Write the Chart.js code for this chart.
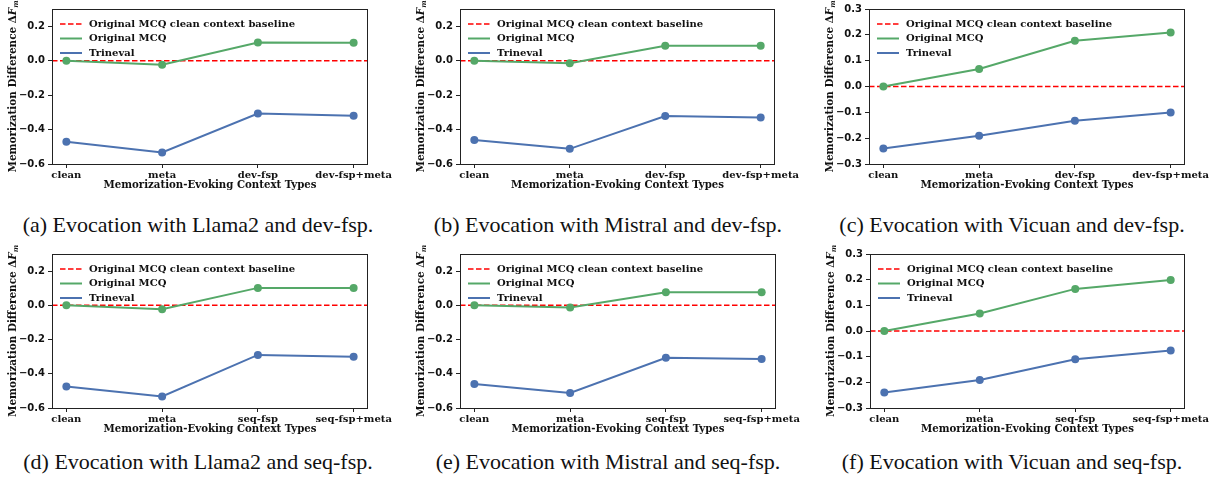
<!DOCTYPE html>
<html>
<head>
<meta charset="utf-8">
<script src="https://cdn.jsdelivr.net/npm/chart.js@4.4.1/dist/chart.umd.min.js"></script>
<style>
  body { margin: 0; background: #fff; width: 1217px; height: 481px; position: relative; overflow: hidden; }
  canvas { position: absolute; }
  .caption {
    position: absolute; width: 400px; text-align: center;
    font-family: 'Liberation Serif', 'Times New Roman', serif; font-size: 22px; line-height: 22px; color: #111;
    white-space: nowrap;
  }
</style>
</head>
<body>
<canvas id="pa"></canvas>
<canvas id="pb"></canvas>
<canvas id="pc"></canvas>
<canvas id="pd"></canvas>
<canvas id="pe"></canvas>
<canvas id="pf"></canvas>
<div class="caption" style="left:-2px; top:214px;">(a) Evocation with Llama2 and dev-fsp.</div>
<div class="caption" style="left:408px; top:214px;">(b) Evocation with Mistral and dev-fsp.</div>
<div class="caption" style="left:812px; top:214px;">(c) Evocation with Vicuan and dev-fsp.</div>
<div class="caption" style="left:-2px; top:451px;">(d) Evocation with Llama2 and seq-fsp.</div>
<div class="caption" style="left:408px; top:451px;">(e) Evocation with Mistral and seq-fsp.</div>
<div class="caption" style="left:812px; top:451px;">(f) Evocation with Vicuan and seq-fsp.</div>
<script>
// Categorias do eixo x
const categoriasDev = ['clean', 'meta', 'dev-fsp', 'dev-fsp+meta'];
const categoriasSeq = ['clean', 'meta', 'seq-fsp', 'seq-fsp+meta'];

// Valores
const mcqLlamaDev = [0, -0.023, 0.105, 0.104];
const trinevalLlamaDev = [-0.471, -0.533, -0.307, -0.320];
const mcqMistralDev = [0, -0.015, 0.086, 0.086];
const trinevalMistralDev = [-0.460, -0.512, -0.322, -0.330];
const mcqVicuanDev = [0, 0.068, 0.177, 0.209];
const trinevalVicuanDev = [-0.240, -0.191, -0.133, -0.101];

const mcqLlamaSeq = [0, -0.023, 0.102, 0.102];
const trinevalLlamaSeq = [-0.474, -0.533, -0.290, -0.301];
const mcqMistralSeq = [0, -0.013, 0.077, 0.077];
const trinevalMistralSeq = [-0.460, -0.512, -0.307, -0.313];
const mcqVicuanSeq = [0, 0.068, 0.164, 0.199];
const trinevalVicuanSeq = [-0.240, -0.191, -0.110, -0.076];

const baseline = 0;
const ticksLargo = [-0.6, -0.4, -0.2, 0.0, 0.2];
const ticksEstreito = [-0.3, -0.2, -0.1, 0.0, 0.1, 0.2, 0.3];
const legendas = ['Original MCQ clean context baseline', 'Original MCQ', 'Trineval'];

const VERDE = '#55A868';
const AZUL = '#4C72B0';
const VERMELHO = '#FF0000';
const SERIF = "'DejaVu Serif', serif";
const SANS = "'DejaVu Sans', sans-serif";

function fmtTick(v) {
    const s = Math.abs(v).toFixed(1);
    return v < -1e-9 ? '\u2212' + s : s;
}

// Moldura, legenda e títulos dos eixos
const decoracao = {
    id: 'decoracao',
    afterDraw(chart) {
        const { ctx, chartArea: a } = chart;
        ctx.save();
        ctx.strokeStyle = '#222';
        ctx.lineWidth = 1;
        ctx.strokeRect(Math.round(a.left) + 0.5, Math.round(a.top) + 0.5,
            Math.round(a.right - a.left) - 1, Math.round(a.bottom - a.top));

        // legenda
        ctx.font = 'bold 10px ' + SERIF;
        ctx.textBaseline = 'middle';
        chart.data.datasets.forEach((ds, i) => {
            const y = a.top + 15 + i * 14.5;
            const x0 = a.left + 8;
            ctx.beginPath();
            ctx.strokeStyle = ds.borderColor;
            ctx.lineWidth = ds.borderWidth;
            ctx.setLineDash(ds.borderDash || []);
            ctx.moveTo(x0, y);
            ctx.lineTo(x0 + 22, y);
            ctx.stroke();
            ctx.setLineDash([]);
            ctx.fillStyle = '#111';
            ctx.fillText(ds.label, x0 + 29, y);
        });

        // título x
        ctx.textAlign = 'center';
        ctx.font = 'bold 10.2px ' + SERIF;
        ctx.fillText('Memorization-Evoking Context Types', (a.left + a.right) / 2, a.bottom + 21);

        // título y com subscrito
        ctx.translate(a.left - 39, (a.top + a.bottom) / 2);
        ctx.rotate(-Math.PI / 2);
        const p1 = 'Memorization Difference \u0394';
        ctx.font = 'bold 10.4px ' + SERIF;
        const w1 = ctx.measureText(p1).width;
        ctx.font = 'italic bold 10.4px ' + SERIF;
        const w2 = ctx.measureText('F').width;
        ctx.font = 'italic bold 7px ' + SERIF;
        const w3 = ctx.measureText('m').width;
        let x = -(w1 + w2 + w3) / 2;
        ctx.textAlign = 'left';
        ctx.font = 'bold 10.4px ' + SERIF;
        ctx.fillText(p1, x, 0);
        x += w1;
        ctx.font = 'italic bold 10.4px ' + SERIF;
        ctx.fillText('F', x, 0);
        x += w2;
        ctx.font = 'italic bold 7px ' + SERIF;
        ctx.fillText('m', x, 3);
        ctx.restore();
    }
};

function criarPainel(id, area, categorias, mcq, trineval, yMin, yMax, yTicks) {
    const canvas = document.getElementById(id);
    const w = (area.right - area.left) + 52 + 30;
    const h = (area.bottom - area.top) + 6 + 30;
    canvas.width = w;
    canvas.height = h;
    canvas.style.left = (area.left - 52) + 'px';
    canvas.style.top = (area.top - 6) + 'px';

    const pontos = arr => arr.map((v, i) => ({ x: i, y: v }));
    const xMin = -0.15, xMax = categorias.length - 1 + 0.15;

    new Chart(canvas.getContext('2d'), {
        type: 'line',
        data: {
            datasets: [
                {
                    label: legendas[0],
                    data: [{ x: xMin, y: baseline }, { x: xMax, y: baseline }],
                    borderColor: VERMELHO,
                    borderWidth: 1.5,
                    borderDash: [5.5, 2.5],
                    pointRadius: 0,
                    order: 3
                },
                {
                    label: legendas[1],
                    data: pontos(mcq),
                    borderColor: VERDE,
                    backgroundColor: VERDE,
                    borderWidth: 2,
                    pointRadius: 4,
                    pointBorderWidth: 0,
                    order: 2
                },
                {
                    label: legendas[2],
                    data: pontos(trineval),
                    borderColor: AZUL,
                    backgroundColor: AZUL,
                    borderWidth: 2,
                    pointRadius: 4,
                    pointBorderWidth: 0,
                    order: 1
                }
            ]
        },
        options: {
            responsive: false,
            animation: false,
            devicePixelRatio: 1,
            layout: { padding: { left: 0, right: 30, top: 6, bottom: 0 } },
            plugins: { legend: { display: false }, tooltip: { enabled: false } },
            scales: {
                x: {
                    type: 'linear',
                    min: xMin,
                    max: xMax,
                    afterBuildTicks: s => { s.ticks = categorias.map((c, i) => ({ value: i })); },
                    afterFit: s => { s.height = 30; },
                    grid: { drawOnChartArea: false, drawTicks: true, tickLength: 4, color: '#222' },
                    border: { display: false },
                    ticks: {
                        autoSkip: false,
                        maxRotation: 0,
                        padding: 1,
                        color: '#111',
                        font: { family: SERIF, size: 10, weight: 'bold' },
                        callback: v => categorias[v]
                    }
                },
                y: {
                    type: 'linear',
                    min: yMin,
                    max: yMax,
                    afterBuildTicks: s => { s.ticks = yTicks.map(v => ({ value: v })); },
                    afterFit: s => { s.width = 52; },
                    grid: { drawOnChartArea: false, drawTicks: true, tickLength: 4, color: '#222' },
                    border: { display: false },
                    ticks: {
                        padding: 3,
                        color: '#111',
                        font: { family: SANS, size: 10, weight: 'bold' },
                        callback: v => fmtTick(v)
                    }
                }
            }
        },
        plugins: [decoracao]
    });
}

criarPainel('pa', { left: 52, right: 368, top: 6, bottom: 164 }, categoriasDev, mcqLlamaDev, trinevalLlamaDev, -0.6, 0.3, ticksLargo);
criarPainel('pb', { left: 460, right: 775, top: 6, bottom: 164 }, categoriasDev, mcqMistralDev, trinevalMistralDev, -0.6, 0.3, ticksLargo);
criarPainel('pc', { left: 869, right: 1185, top: 6, bottom: 164 }, categoriasDev, mcqVicuanDev, trinevalVicuanDev, -0.3, 0.3, ticksEstreito);
criarPainel('pd', { left: 52, right: 368, top: 251, bottom: 408 }, categoriasSeq, mcqLlamaSeq, trinevalLlamaSeq, -0.6, 0.3, ticksLargo);
criarPainel('pe', { left: 460, right: 776, top: 251, bottom: 408 }, categoriasSeq, mcqMistralSeq, trinevalMistralSeq, -0.6, 0.3, ticksLargo);
criarPainel('pf', { left: 870, right: 1185, top: 251, bottom: 408 }, categoriasSeq, mcqVicuanSeq, trinevalVicuanSeq, -0.3, 0.3, ticksEstreito);
</script>
</body>
</html>
